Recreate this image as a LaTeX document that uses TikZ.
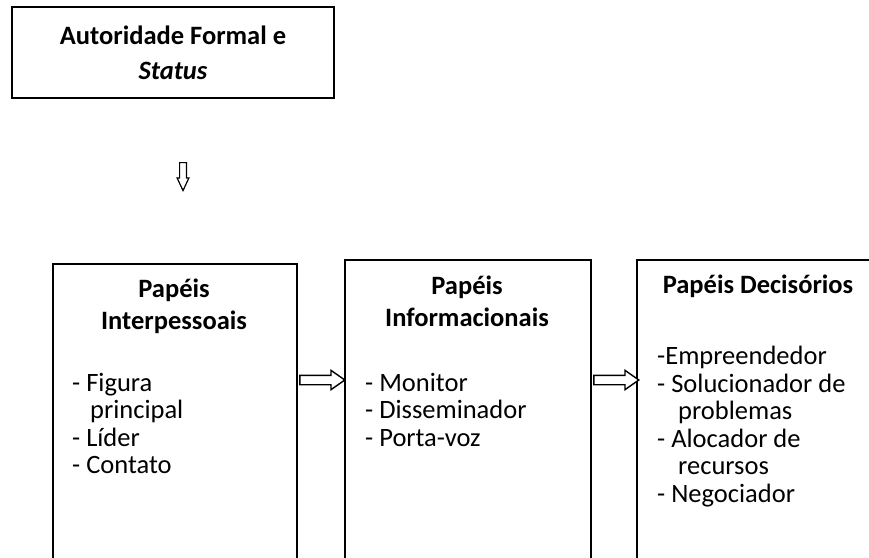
\documentclass[tikz,border=0pt]{standalone}
\usepackage{fontspec}
\setmainfont{Carlito}
\usepackage{tikz}
\usetikzlibrary{shapes.arrows,positioning}

\tikzset{
    kader/.style={draw, line width=1.6pt, inner sep=0pt},
    titel/.style={font=\fontsize{26.5}{32}\selectfont\bfseries, align=center, inner sep=0pt},
    lijst/.style={font=\fontsize{26.5}{27.5}\selectfont, align=left, inner sep=0pt, anchor=north west},
    blokpijl/.style={single arrow, draw, line width=1.4pt, fill=white, inner sep=4pt,
        single arrow head extend=5pt, single arrow tip angle=70, minimum height=45pt, anchor=tail},
    blokpijlklein/.style={single arrow, draw, line width=1.2pt, fill=white, inner sep=2.8pt,
        single arrow head extend=2.5pt, single arrow tip angle=50, minimum height=28pt,
        shape border rotate=270, anchor=tail},
}

\begin{document}
\begin{tikzpicture}[x=1pt,y=-1pt]

    \clip (0,0) rectangle (869,557);

    % Bovenste blok
    \node[kader, minimum width=322pt, minimum height=91pt,
          font=\fontsize{26.5}{35}\selectfont\bfseries, align=center] (gezag) at (173,52.5)
          {Autoridade Formal e\\\textit{Status}};

    % Pijl omlaag
    \node[blokpijlklein] (omlaag) at (183,162) {};

    % Drie blokken
    \node[kader, minimum width=244pt, minimum height=340pt, anchor=north west] (inter) at (52,263) {};
    \node[kader, minimum width=246pt, minimum height=344pt, anchor=north west] (info) at (344,259) {};
    \node[kader, minimum width=250pt, minimum height=344pt, anchor=north west] (besl) at (636,259) {};

    % Titels
    \node[titel] (interT) at (174,306) {Papéis\\Interpessoais};
    \node[titel] (infoT) at (467,301) {Papéis\\Informacionais};
    \node[titel] (beslT) at (758,286) {Papéis Decisórios};

    % Lijsten
    \node[lijst] (interL) at (72,373) {- Figura\\\hspace*{18pt}principal\\- Líder\\- Contato};
    \node[lijst] (infoL) at (365,373) {- Monitor\\- Disseminador\\- Porta-voz};
    \node[lijst] (beslL) at (657,346) {-Empreendedor\\- Solucionador de\\\hspace*{21pt}problemas\\- Alocador de\\\hspace*{21pt}recursos\\- Negociador};

    % Pijlen tussen blokken
    \coordinate (rij) at (0,380);
    \node[blokpijl] (pijl1) at ([xshift=1.5pt]inter.east |- rij) {};
    \node[blokpijl] (pijl2) at ([xshift=1.5pt]info.east |- rij) {};

\end{tikzpicture}
\end{document}
